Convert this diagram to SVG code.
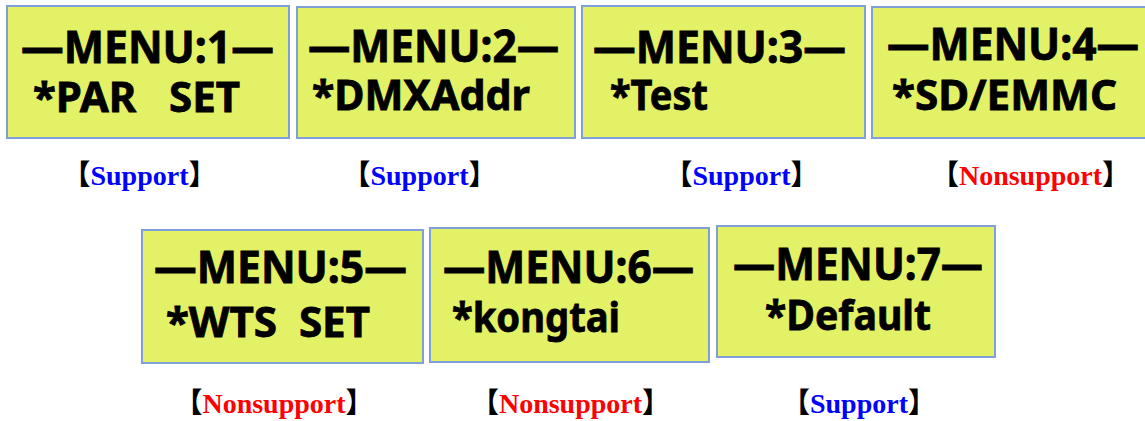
<svg xmlns="http://www.w3.org/2000/svg" width="1145" height="421" viewBox="0 0 1145 421">
<style>
.box{fill:#e3f166;stroke:#7f9fd6;stroke-width:2}
.t{font-family:"Noto Sans","Open Sans","DejaVu Sans",sans-serif;font-weight:bold;font-size:44px;fill:#000;stroke:#000;stroke-width:0.8;white-space:pre}
.t2{font-size:42px}
.lab{font-family:"Liberation Serif","Noto Sans CJK SC",serif;font-weight:bold;font-size:28px;fill:#000;text-anchor:middle}
.br{font-family:"Noto Sans CJK SC",sans-serif;font-weight:900}
.s{fill:#0000ff}
.n{fill:#ff0000}
</style>
<rect width="1145" height="421" fill="#fff"/>
<g id="menu1">
<rect class="box" x="7" y="6" width="282" height="132"/>
<text class="t" x="21" y="63" textLength="253" lengthAdjust="spacingAndGlyphs">—MENU:1—</text>
<text class="t t2" x="33" y="112" textLength="207" lengthAdjust="spacingAndGlyphs">*PAR   SET</text>
<text class="lab" x="139.5" y="185"><tspan class="br">【</tspan><tspan class="s">Support</tspan><tspan class="br">】</tspan></text>
</g>
<g id="menu2">
<rect class="box" x="297" y="7" width="278" height="131"/>
<text class="t" x="308" y="62" textLength="251" lengthAdjust="spacingAndGlyphs">—MENU:2—</text>
<text class="t t2" x="312" y="110" textLength="218" lengthAdjust="spacingAndGlyphs">*DMXAddr</text>
<text class="lab" x="419.5" y="185"><tspan class="br">【</tspan><tspan class="s">Support</tspan><tspan class="br">】</tspan></text>
</g>
<g id="menu3">
<rect class="box" x="582" y="6" width="283" height="132"/>
<text class="t" x="593" y="63" textLength="253" lengthAdjust="spacingAndGlyphs">—MENU:3—</text>
<text class="t t2" x="610" y="110" textLength="98" lengthAdjust="spacingAndGlyphs">*Test</text>
<text class="lab" x="741.5" y="185"><tspan class="br">【</tspan><tspan class="s">Support</tspan><tspan class="br">】</tspan></text>
</g>
<g id="menu4">
<rect class="box" x="872" y="7" width="282" height="131"/>
<text class="t" x="887" y="60" textLength="252" lengthAdjust="spacingAndGlyphs">—MENU:4—</text>
<text class="t t2" x="892" y="110" textLength="225" lengthAdjust="spacingAndGlyphs">*SD/EMMC</text>
<text class="lab" x="1030.5" y="185"><tspan class="br">【</tspan><tspan class="n">Nonsupport</tspan><tspan class="br">】</tspan></text>
</g>
<g id="menu5">
<rect class="box" x="142" y="230" width="281" height="133"/>
<text class="t" x="154" y="283" textLength="253" lengthAdjust="spacingAndGlyphs">—MENU:5—</text>
<text class="t t2" x="166" y="337" textLength="204" lengthAdjust="spacingAndGlyphs">*WTS  SET</text>
<text class="lab" x="274" y="413"><tspan class="br">【</tspan><tspan class="n">Nonsupport</tspan><tspan class="br">】</tspan></text>
</g>
<g id="menu6">
<rect class="box" x="430" y="228" width="279" height="134"/>
<text class="t" x="443" y="283" textLength="251" lengthAdjust="spacingAndGlyphs">—MENU:6—</text>
<text class="t t2" x="452" y="332" textLength="168" lengthAdjust="spacingAndGlyphs">*kongtai</text>
<text class="lab" x="570.5" y="413"><tspan class="br">【</tspan><tspan class="n">Nonsupport</tspan><tspan class="br">】</tspan></text>
</g>
<g id="menu7">
<rect class="box" x="717" y="226" width="278" height="131"/>
<text class="t" x="733" y="280" textLength="250" lengthAdjust="spacingAndGlyphs">—MENU:7—</text>
<text class="t t2" x="765" y="330" textLength="166" lengthAdjust="spacingAndGlyphs">*Default</text>
<text class="lab" x="859" y="413"><tspan class="br">【</tspan><tspan class="s">Support</tspan><tspan class="br">】</tspan></text>
</g>
<g id="connectors"/>
</svg>
